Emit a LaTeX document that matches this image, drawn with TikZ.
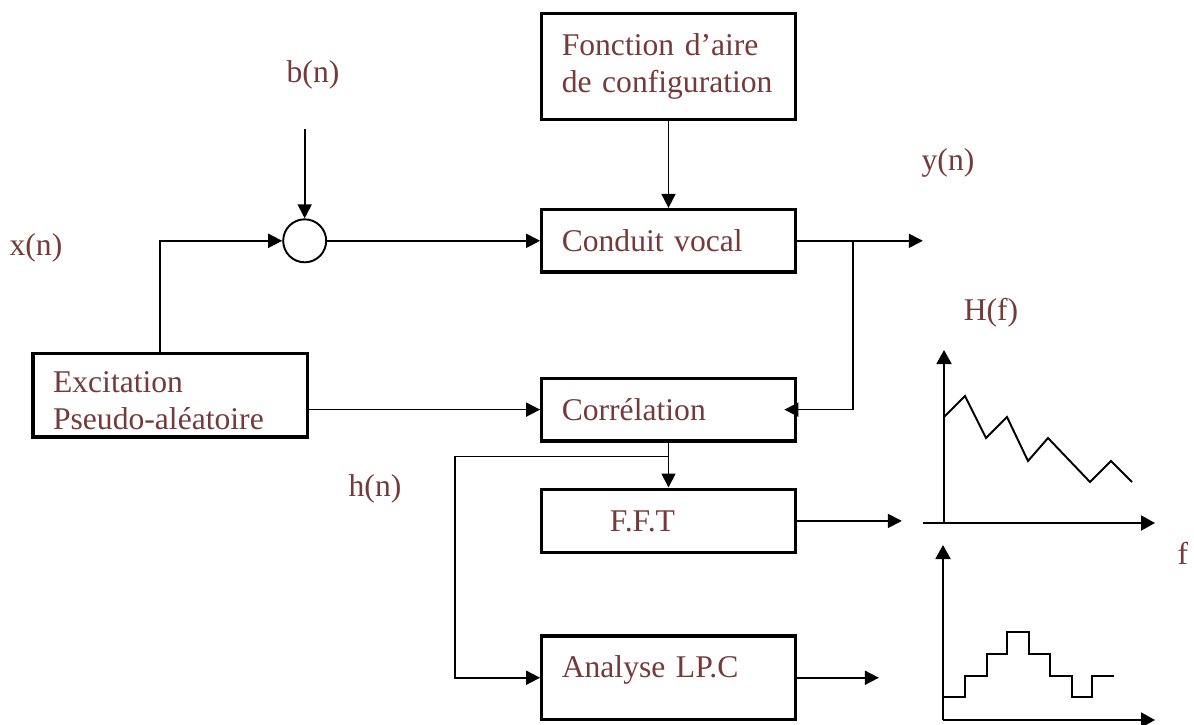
\documentclass[tikz,border=0pt]{standalone}
\usepackage{fontspec}
\setmainfont{Liberation Serif}
\usetikzlibrary{arrows.meta,positioning}
\definecolor{sigred}{HTML}{763A3A}
\tikzset{
  blockBox/.style={draw=black, line width=1.9pt, fill=white, text=sigred, align=left, inner xsep=0.4cm, inner ysep=0pt, text width=4.27cm},
  sumNode/.style={draw=black, line width=1.1pt, circle, minimum size=0.86cm, inner sep=0pt},
  sigArrow/.style={-{Triangle[length=2.8mm,width=2.8mm]}, line width=1pt, draw=black},
  sigLabel/.style={text=sigred, inner sep=2pt},
  plotAxis/.style={-{Triangle[length=2.8mm,width=3mm]}, line width=1.1pt},
  plotCurve/.style={line width=1.1pt}
}
\begin{document}
\begin{tikzpicture}[x=0.02cm, y=-0.02cm, node distance=1.74cm, font=\fontsize{18}{21}\selectfont]
  \path[use as bounding box, fill=white] (0,0) rectangle (1194,724);
  % chaine principale
  \node[blockBox, minimum height=2.11cm] (fonc) at (668.5,66.5) {Fonction d’aire\\\mbox{de configuration}};
  \node[blockBox, minimum height=1.25cm, below=1.74cm of fonc] (cv) {Conduit vocal};
  \node[blockBox, minimum height=1.25cm, below=2.06cm of cv] (cor) {Corrélation};
  \node[blockBox, minimum height=1.27cm, below=0.9cm of cor] (fft) {\hspace*{0.96cm}F.F.T};
  \node[blockBox, minimum height=1.67cm, text height=0.45cm, text depth=0.45cm, below=1.6cm of fft] (lpc) {Analyse LP.C};
  \node[blockBox, text width=4.69cm, text height=0.64cm, minimum height=1.67cm, left=4.62cm of cor, yshift=0.29cm] (exc) {Excitation\\Pseudo-aléatoire};
  \node[sumNode, left=4.26cm of cv] (sum) {};
  % signaux
  \node[sigLabel] (bn) at (313,75) {b(n)};
  \node[sigLabel] (xn) at (36,248) {x(n)};
  \node[sigLabel] (yn) at (948,163) {y(n)};
  \node[sigLabel] (hn) at (375,489) {h(n)};
  \node[sigLabel] (hf) at (991,313) {H(f)};
  \node[sigLabel] (fq) at (1183,553) {f};
  \coordinate[above=1.78cm of sum.north] (bin);
  \coordinate[right=2.52cm of cv.east] (yout);
  \coordinate[right=2.1cm of fft.east] (fftout);
  \coordinate[right=1.64cm of lpc.east] (lpcout);
  \draw[sigArrow] (bin) -- (sum);
  \draw[sigArrow] ([xshift=2.58cm]exc.north west) |- (sum.west);
  \draw[sigArrow] (sum.east) -- (sum.east -| cv.west);
  \draw[sigArrow] (fonc) -- (cv);
  \draw[sigArrow] (cv.east) -- (yout);
  \draw[sigArrow, shorten >=-0.25cm] ([xshift=1.12cm]cv.east) |- (cor.east);
  \draw[sigArrow] (exc.east |- cor.west) -- (cor.west);
  \draw[sigArrow] (cor) -- (fft);
  \draw[sigArrow] ([yshift=-0.28cm]cor.south) -| ([xshift=-1.71cm]lpc.west) |- (lpc.west);
  \draw[sigArrow] (fft.east) -- (fftout);
  \draw[sigArrow] (lpc.east) -- (lpcout);
  % H(f)
  \draw[plotAxis] (923,523) -- (1155,523);
  \draw[plotAxis] (944,523) -- (944,350);
  \draw[plotCurve] (944,417) -- (965,396) -- (986,438) -- (1007,417) -- (1028,461) -- (1048,438) -- (1090,482) -- (1111,461) -- (1132,482);
  % modele LPC
  \draw[plotAxis] (943,720) -- (1155,720);
  \draw[plotAxis] (943,720) -- (943,545);
  \draw[plotCurve] (943,697) -| (965,676) -| (987,654) -| (1007,632) -| (1029,654) -| (1050,676) -| (1072,697) -| (1092,676) -- (1114,676);
\end{tikzpicture}
\end{document}
